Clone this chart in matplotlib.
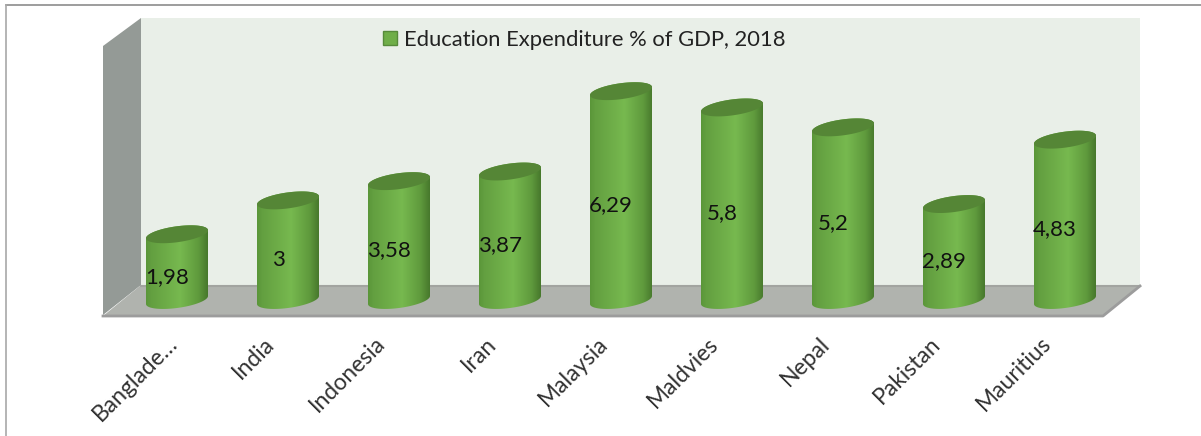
import numpy as np
import matplotlib
matplotlib.use('Agg')
import matplotlib.pyplot as plt
from matplotlib.colors import LinearSegmentedColormap
from matplotlib.patches import PathPatch, Patch, Polygon
from matplotlib.path import Path
from matplotlib.transforms import ScaledTranslation

countries = ['Banglade…', 'India', 'Indonesia', 'Iran', 'Malaysia',
             'Maldvies', 'Nepal', 'Pakistan', 'Mauritius']
expenditure = [1.98, 3, 3.58, 3.87, 6.29, 5.8, 5.2, 2.89, 4.83]
legend_label = 'Education Expenditure % of GDP, 2018'

W, H = 1201, 436
plt.rcParams['font.family'] = ['Lato', 'DejaVu Sans']
fig = plt.figure(figsize=(W / 100, H / 100), dpi=100)

# room and frame, in pixels
bg = fig.add_axes([0, 0, 1, 1])
bg.set_xlim(0, W)
bg.set_ylim(H, 0)
bg.axis('off')
bg.plot([6, W], [5.5, 5.5], color='#8c8c8c', lw=1.2)
bg.plot([6, 6], [5.5, H], color='#a8a8a8', lw=1.2)
bg.add_patch(Polygon([(141, 18), (1140, 18), (1140, 285), (141, 285)], color='#e9efe8', lw=0))
bg.add_patch(Polygon([(103, 46), (141, 18), (141, 285), (103, 315)], color='#949a96', lw=0))
bg.add_patch(Polygon([(141, 285), (1140, 285), (1103, 316), (103, 316)], color='#b0b3ae', lw=0))
bg.plot([141, 1140], [286, 286], color='#a2a4a0', lw=1.5)
bg.plot([103, 1103, 1140], [316, 316, 286], color='#9c9c9c', lw=2)

# value 0 sits at pixel row 300, bars are 111 px apart
left, right, top, zero = 103, 1140, 18, 300
ax = fig.add_axes([left / W, (H - zero) / H, (right - left) / W, (zero - top) / H])
ax.patch.set_alpha(0)
for s in ax.spines.values():
    s.set_visible(False)

a = 31 / 111      # half width of a bar
b = 8 / 33.2      # half height of the ellipse
tilt = 4 / 33.2   # the ellipses rise to the right

body_cmap = LinearSegmentedColormap.from_list('body', [
    (0, '#5a9639'), (0.08, '#639f40'), (0.55, '#77b94f'),
    (0.85, '#5f9a3d'), (1, '#47782c')])
gradient = np.linspace(0, 1, 128).reshape(1, -1)
t = np.linspace(0, 2 * np.pi, 100)
lower = np.linspace(np.pi, 2 * np.pi, 50)
upper = lower - np.pi

x = np.arange(len(countries))
for i, v in zip(x, expenditure):
    # silhouette: bottom half of the base ellipse, then back over the top
    bx = i + a * np.cos(lower)
    by = b * np.sin(lower) + tilt * np.cos(lower)
    tx = i + a * np.cos(upper)
    ty = v + b * np.sin(upper) + tilt * np.cos(upper)
    verts = np.column_stack([np.r_[bx, tx], np.r_[by, ty]])
    outline = PathPatch(Path(verts), fc='none', ec='none', transform=ax.transData)
    ax.add_patch(outline)
    im = ax.imshow(gradient, cmap=body_cmap, aspect='auto', zorder=2,
                   extent=[i - a, i + a, -0.5, v + 0.5])
    im.set_clip_box(fig.bbox)
    im.set_clip_path(outline)
    outline.set_clip_on(False)
    ax.fill(i + a * np.cos(t), v + b * np.sin(t) + tilt * np.cos(t),
            color='#558636', lw=0, zorder=3, clip_on=False)
    ax.annotate(f'{v:g}'.replace('.', ','), xy=(i, v / 2), xytext=(-10 * 0.72, -9.5 * 0.72),
                textcoords='offset points', ha='center', va='center',
                fontsize=16, color='#111111', zorder=4)

ax.set_xlim(-74 / 111, 963 / 111)
ax.set_ylim(0, (zero - top) / 33.2)
ax.set_yticks([])
ax.set_xticks(x)
ax.set_xticklabels(countries, rotation=45, ha='right', va='center',
                   rotation_mode='anchor', fontsize=16.5, color='#333333')
ax.tick_params(axis='x', length=0, pad=29)
for n, lab in enumerate(ax.get_xticklabels()):
    # the truncated first label runs further right than the others
    dx = -3 if n == 0 else -17
    lab.set_transform(lab.get_transform() + ScaledTranslation(dx / 100, 0, fig.dpi_scale_trans))

handle = Patch(facecolor='#6fae48', edgecolor='#568a3a', label=legend_label)
ax.legend(handles=[handle], loc='center left', frameon=False, fontsize=15.8,
          bbox_to_anchor=(280 / 1037, 1 - 22 / 282), borderaxespad=0, borderpad=0,
          handlelength=0.63, handleheight=0.63, handletextpad=0.32, labelcolor='#222222')

fig.savefig('out.png', dpi=100)
